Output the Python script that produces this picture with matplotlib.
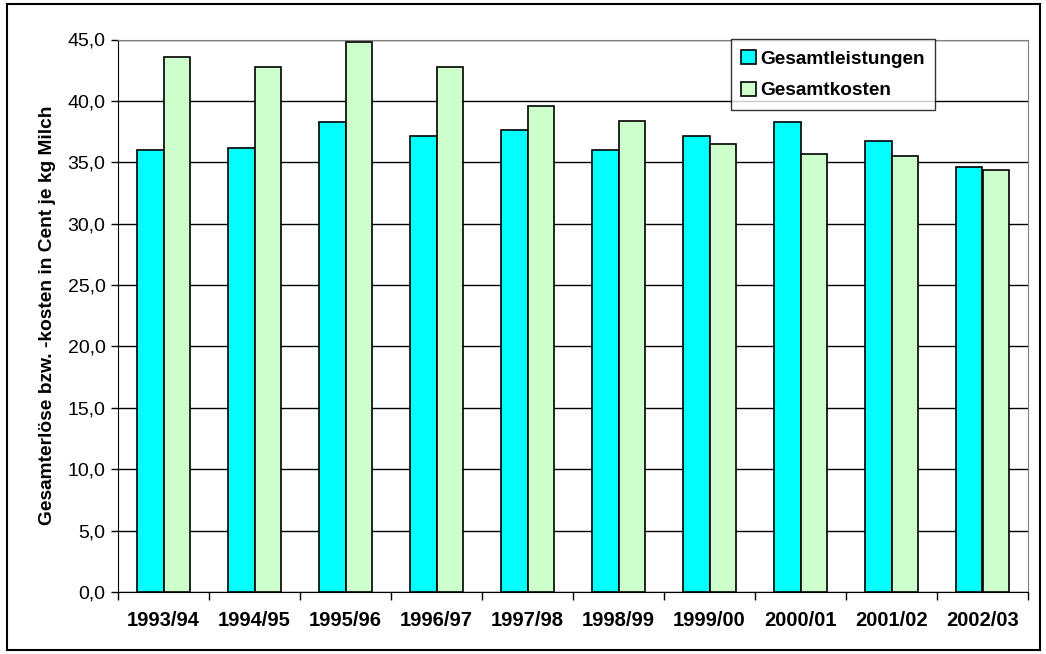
import numpy as np
import matplotlib.pyplot as plt
from matplotlib.patches import Rectangle
from matplotlib.ticker import FixedLocator

plt.rcParams['font.family'] = ['Liberation Sans', 'DejaVu Sans']

# Wirtschaftsjahre und Werte (Cent je kg Milch)
jahre = ['1993/94', '1994/95', '1995/96', '1996/97', '1997/98',
         '1998/99', '1999/00', '2000/01', '2001/02', '2002/03']
gesamtleistungen = [36.0, 36.2, 38.3, 37.1, 37.6, 36.0, 37.1, 38.3, 36.7, 34.6]
gesamtkosten = [43.6, 42.8, 44.8, 42.8, 39.6, 38.4, 36.5, 35.7, 35.5, 34.4]

fig = plt.figure(figsize=(10.46, 6.54), dpi=100)
ax = fig.add_axes([118 / 1046, 62 / 654, 910 / 1046, 552.5 / 654])

x = np.arange(len(jahre))
w = 0.286
ax.bar(x - w / 2, gesamtleistungen, w, color='#00FFFF', edgecolor='black',
       linewidth=1.2, label='Gesamtleistungen', zorder=3)
ax.bar(x + w / 2, gesamtkosten, w, color='#CCFFCC', edgecolor='black',
       linewidth=1.2, label='Gesamtkosten', zorder=3)

ax.set_xlim(-0.5, len(jahre) - 0.5)
ax.set_ylim(0, 45)
ax.set_yticks(np.arange(0, 46, 5))
ax.set_yticklabels([f'{v:.1f}'.replace('.', ',') for v in np.arange(0, 46, 5)],
                   fontsize=14)
ax.yaxis.grid(True, color='black', linewidth=1, zorder=0)

# Kategorienbeschriftung mittig, Teilstriche zwischen den Jahren
ax.set_xticks(x)
ax.set_xticklabels(jahre, fontsize=14.5, fontweight='bold')
ax.tick_params(axis='x', which='major', length=0, pad=14)
ax.xaxis.set_minor_locator(FixedLocator(np.arange(-0.5, len(jahre), 1)))
ax.tick_params(axis='x', which='minor', length=6, width=1, direction='out')
ax.tick_params(axis='y', length=5, width=1, direction='out', pad=4)

ax.spines['left'].set_color('black')
ax.spines['bottom'].set_color('black')
ax.spines['top'].set_color('#808080')
ax.spines['right'].set_color('#808080')

ax.set_ylabel('Gesamterlöse bzw. -kosten in Cent je kg Milch',
              fontsize=13.8, fontweight='bold', labelpad=8)

leg = ax.legend(loc='upper left', bbox_to_anchor=(613 / 910, 1.0),
                prop={'weight': 'bold', 'size': 13.7}, frameon=True, fancybox=False,
                edgecolor='black', handlelength=0.75, handleheight=0.75,
                handletextpad=0.25, borderpad=0.55, labelspacing=0.75,
                borderaxespad=0.0)
leg.get_frame().set_linewidth(1)

# Rahmen um das gesamte Diagramm
fig.patches.append(Rectangle((7 / 1046, 4 / 654), 1033 / 1046, 646 / 654,
                             transform=fig.transFigure, fill=False,
                             edgecolor='black', linewidth=1.5))

fig.savefig('out.png', dpi=100)
